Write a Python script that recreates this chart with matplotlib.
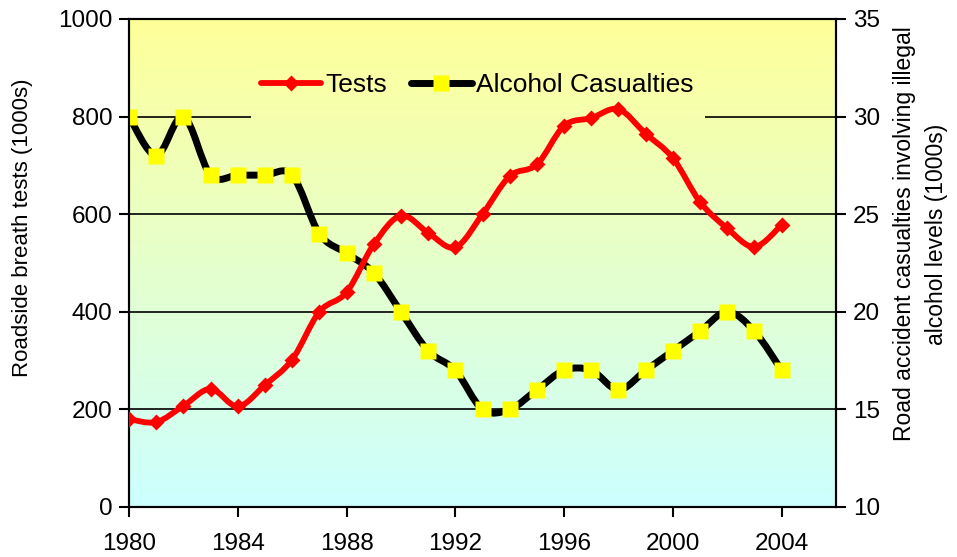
import numpy as np
import matplotlib
matplotlib.use('Agg')
import matplotlib.pyplot as plt
from matplotlib.path import Path
from matplotlib.patches import PathPatch, Rectangle
from matplotlib.lines import Line2D

plt.rcParams['font.family'] = ['Liberation Sans', 'DejaVu Sans']

years = list(range(1980, 2005))
tests = [180, 174, 207, 242, 206, 250, 302, 400, 440, 538, 597, 562, 532, 600,
         678, 702, 781, 797, 815, 765, 715, 625, 571, 533, 578]
casualties = [30, 28, 30, 27, 27, 27, 27, 24, 23, 22, 20, 18, 17, 15,
              15, 16, 17, 17, 16, 17, 18, 19, 20, 19, 17]
x_ticks = [1980, 1984, 1988, 1992, 1996, 2000, 2004]
left_ticks = [0, 200, 400, 600, 800, 1000]
right_ticks = [10, 15, 20, 25, 30, 35]

top_col = np.array([255, 255, 153]) / 255
bot_col = np.array([204, 255, 255]) / 255


def smooth_path(x, y):
    # excel-like smoothed line: cubic bezier, control points at 1/6 of neighbour slope
    n = len(x)
    verts = [(x[0], y[0])]
    codes = [Path.MOVETO]
    for i in range(n - 1):
        a = i - 1 if i > 0 else i
        d = i + 2 if i + 2 < n else i + 1
        c1 = (x[i] + (x[i + 1] - x[a]) / 6, y[i] + (y[i + 1] - y[a]) / 6)
        c2 = (x[i + 1] - (x[d] - x[i]) / 6, y[i + 1] - (y[d] - y[i]) / 6)
        verts += [c1, c2, (x[i + 1], y[i + 1])]
        codes += [Path.CURVE4] * 3
    return Path(verts, codes)


fig = plt.figure(figsize=(9.57, 5.57), dpi=100)
ax = fig.add_axes([0.1348, 0.0898, 0.7388, 0.8761])
ax2 = ax.twinx()

# background gradient
grad = np.linspace(0, 1, 256)[:, None, None]
img = top_col * (1 - grad) + bot_col * grad
ax.imshow(img, extent=(0, 1, 0, 1), transform=ax.transAxes, aspect='auto', zorder=0)

# casualties axis (drawn first) with ticks on the right
ax.set_xlim(1980, 2006)
ax.set_ylim(10, 35)
ax.set_yticks(right_ticks)
ax.yaxis.tick_right()
ax.set_xticks(x_ticks)
ax.set_axisbelow(True)
ax.grid(axis='y', color='black', linewidth=1.2)
ax.grid(axis='x', visible=False)

# patch behind the legend hiding the gridline
cover = ax.imshow(img, extent=(0, 1, 0, 1), transform=ax.transAxes, aspect='auto', zorder=1)
rect = Rectangle((0.173, 0.79), 0.642, 0.13, transform=ax.transAxes)
cover.set_clip_path(rect)

ax.add_patch(PathPatch(smooth_path(years, casualties), fill=False, edgecolor='black',
                       linewidth=5, capstyle='round', joinstyle='round', zorder=2))
ax.plot(years, casualties, linestyle='none', marker='s', markersize=11.5,
        markerfacecolor='#ffff00', markeredgecolor='none', zorder=3)

# tests axis on the left
ax2.set_ylim(0, 1000)
ax2.set_yticks(left_ticks)
ax2.yaxis.tick_left()
ax2.add_patch(PathPatch(smooth_path(years, tests), fill=False, edgecolor='#ff0000',
                        linewidth=4.2, capstyle='round', joinstyle='round', zorder=2))
ax2.plot(years, tests, linestyle='none', marker='D', markersize=8,
         markerfacecolor='#ff0000', markeredgecolor='none', zorder=3)
ax2.set_xlim(1980, 2006)

for a in (ax, ax2):
    a.tick_params(direction='out', length=7, width=1.5, labelsize=17.5, pad=5)
    for s in a.spines.values():
        s.set_linewidth(1.5)
ax.tick_params(axis='x', pad=12)

handles = [
    Line2D([], [], color='#ff0000', linewidth=4.2, marker='D', markersize=8,
           markerfacecolor='#ff0000', markeredgecolor='none', solid_capstyle='round'),
    Line2D([], [], color='black', linewidth=5, marker='s', markersize=11.5,
           markerfacecolor='#ffff00', markeredgecolor='none', solid_capstyle='round'),
]
ax2.legend(handles, ['Tests', 'Alcohol Casualties'], ncol=2, frameon=False,
           loc='center', bbox_to_anchor=(0.492, 0.865), fontsize=19,
           handlelength=2.3, handletextpad=0.15, columnspacing=0.9)

fig.text(0.024, 0.592, 'Roadside breath tests (1000s)', rotation=90,
         ha='center', va='center', fontsize=16)
fig.text(0.962, 0.58, 'Road accident casualties involving illegal\nalcohol levels (1000s)',
         rotation=90, ha='center', va='center', fontsize=16.5, multialignment='center',
         linespacing=1.5)

fig.savefig('out.png', dpi=100)
